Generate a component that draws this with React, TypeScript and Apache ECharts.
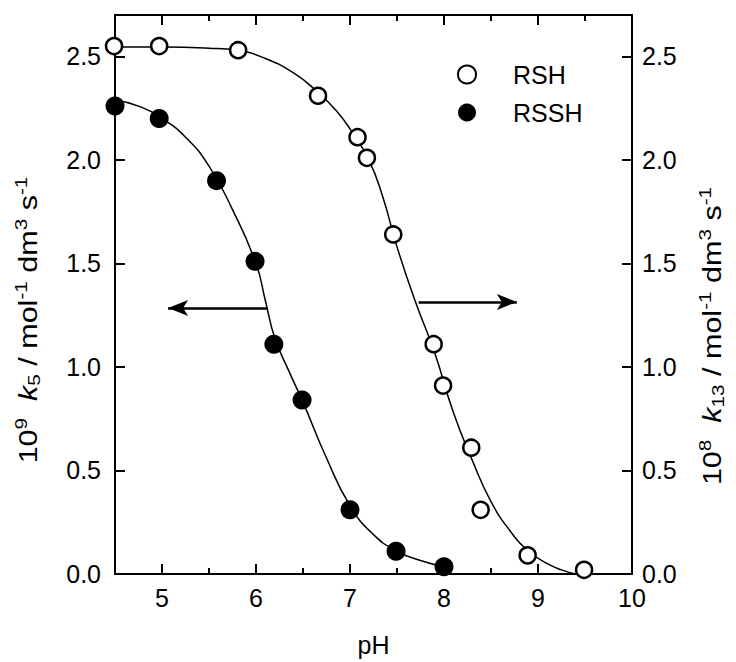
import React, { useEffect, useRef } from "react";
import * as echarts from "echarts";

// ---- axis ticks ----
const xMajorTicks = [5, 6, 7, 8, 9, 10];
const xMinorTicks = [5.5, 6.5, 7.5, 8.5, 9.5];
const yTicks = [0, 0.5, 1.0, 1.5, 2.0, 2.5];

// ---- measured points: RSH (open circles) ----
const rshPH = [4.49, 4.97, 5.81, 6.66, 7.08, 7.18, 7.46, 7.89, 7.99, 8.29, 8.39, 8.89, 9.49];
const rshK = [2.55, 2.55, 2.53, 2.31, 2.11, 2.01, 1.64, 1.11, 0.91, 0.61, 0.31, 0.09, 0.02];

// ---- measured points: RSSH (filled circles) ----
const rsshPH = [4.5, 4.97, 5.58, 5.99, 6.19, 6.49, 7.0, 7.49, 8.0];
const rsshK = [2.26, 2.2, 1.9, 1.51, 1.11, 0.84, 0.31, 0.11, 0.035];

// ---- fitted curve: RSH ----
const rshFitPH = [4.5, 5.0, 5.5, 5.8, 6.1, 6.4, 6.65, 6.85, 7.0, 7.2, 7.35, 7.5, 7.7, 7.9, 8.1, 8.3, 8.5, 8.7, 8.9, 9.1, 9.25, 9.4];
const rshFitK = [2.545, 2.545, 2.54, 2.53, 2.49, 2.42, 2.33, 2.24, 2.15, 2.0, 1.82, 1.58, 1.31, 1.07, 0.78, 0.55, 0.35, 0.21, 0.11, 0.05, 0.02, 0.0];

// ---- fitted curve: RSSH ----
const rsshFitPH = [4.5, 4.75, 5.0, 5.25, 5.5, 5.75, 6.0, 6.1, 6.2, 6.35, 6.5, 6.75, 7.0, 7.25, 7.5, 7.75, 8.0];
const rsshFitK = [2.29, 2.26, 2.2, 2.11, 1.97, 1.76, 1.5, 1.32, 1.14, 0.98, 0.83, 0.56, 0.33, 0.19, 0.11, 0.065, 0.035];

// ---- arrows (data coordinates) ----
const leftArrow = { fromPH: 6.12, toPH: 5.065, k: 1.285 };
const rightArrow = { fromPH: 7.73, toPH: 8.775, k: 1.314 };

const FONT = "Liberation Sans, Arial, Helvetica, sans-serif";

const zip = (a: number[], b: number[]) => a.map((v, i) => [v, b[i]]);

export default function App() {
  const ref = useRef<HTMLDivElement>(null);

  useEffect(() => {
    document.body.style.margin = "0";
    if (!ref.current) return;
    const chart = echarts.init(ref.current, undefined, { renderer: "svg" });

    const xBase = {
      type: "value" as const,
      min: 4.5,
      max: 10,
      splitLine: { show: false },
    };
    const lineStyle = { color: "#000", width: 2 };

    const richAxis = {
      n: { fontSize: 25, fontFamily: FONT, fill: "#000", lineHeight: 30 },
      i: { fontSize: 25, fontFamily: FONT, fontStyle: "italic", fill: "#000", lineHeight: 30 },
      sup: { fontSize: 17, fontFamily: FONT, fill: "#000", verticalAlign: "top", lineHeight: 17 },
      sub: { fontSize: 17, fontFamily: FONT, fill: "#000", verticalAlign: "bottom", lineHeight: 17 },
    };

    const tickLabel = {
      show: true,
      fontSize: 25,
      fontFamily: FONT,
      color: "#000",
    };

    chart.setOption({
      animation: false,
      backgroundColor: "#fff",
      grid: { left: 115, right: 104, top: 15, bottom: 85 },
      legend: {
        data: ["RSH", "RSSH"],
        orient: "vertical",
        left: 452,
        top: 57,
        itemWidth: 18,
        itemHeight: 18,
        itemGap: 13,
        textStyle: { fontSize: 25, fontFamily: FONT, color: "#000", padding: [0, 0, 0, 32] },
      },
      xAxis: [
        {
          ...xBase,
          position: "bottom",
          name: "pH",
          nameLocation: "middle",
          nameGap: 58,
          nameTextStyle: { fontSize: 25, fontFamily: FONT, color: "#000" },
          axisLine: { show: true, lineStyle },
          axisTick: { show: true, inside: true, length: 10, lineStyle, customValues: xMajorTicks },
          axisLabel: { ...tickLabel, margin: 11, customValues: xMajorTicks },
        },
        {
          ...xBase,
          position: "bottom",
          axisLine: { show: false },
          axisTick: { show: true, inside: true, length: 6, lineStyle, customValues: xMinorTicks },
          axisLabel: { show: false },
        },
        {
          ...xBase,
          position: "top",
          axisLine: { show: true, lineStyle },
          axisTick: { show: true, inside: true, length: 10, lineStyle, customValues: xMajorTicks },
          axisLabel: { show: false },
        },
        {
          ...xBase,
          position: "top",
          axisLine: { show: false },
          axisTick: { show: true, inside: true, length: 6, lineStyle, customValues: xMinorTicks },
          axisLabel: { show: false },
        },
      ],
      yAxis: [
        {
          type: "value",
          position: "left",
          min: 0,
          max: 2.7,
          splitLine: { show: false },
          axisLine: { show: true, lineStyle },
          axisTick: { show: true, inside: true, length: 10, lineStyle, customValues: yTicks },
          axisLabel: {
            ...tickLabel,
            margin: 14,
            customValues: yTicks,
            formatter: (v: number) => v.toFixed(1),
          },
        },
        {
          type: "value",
          position: "right",
          min: 0,
          max: 2.7,
          splitLine: { show: false },
          axisLine: { show: true, lineStyle },
          axisTick: { show: true, inside: true, length: 10, lineStyle, customValues: yTicks },
          axisLabel: {
            ...tickLabel,
            margin: 10,
            customValues: yTicks,
            formatter: (v: number) => v.toFixed(1),
          },
        },
      ],
      graphic: [
        {
          type: "text",
          x: 28,
          y: 320,
          rotation: Math.PI / 2,
          scaleX: 1.22,
          style: {
            text: "{n|10}{sup|9}{n|  }{i|k}{sub|5}{n| / mol}{sup|-1}{n| dm}{sup|3}{n| s}{sup|-1}",
            rich: richAxis,
            align: "center",
            verticalAlign: "middle",
          },
        },
        {
          type: "text",
          x: 712,
          y: 336,
          rotation: Math.PI / 2,
          scaleX: 1.22,
          style: {
            text: "{n|10}{sup|8}{n|  }{i|k}{sub|13}{n| / mol}{sup|-1}{n| dm}{sup|3}{n| s}{sup|-1}",
            rich: richAxis,
            align: "center",
            verticalAlign: "middle",
          },
        },
      ],
      series: [
        {
          name: "RSH fit",
          type: "line",
          data: zip(rshFitPH, rshFitK),
          smooth: 0.5,
          showSymbol: false,
          lineStyle: { color: "#000", width: 1.5 },
          z: 1,
          silent: true,
          markLine: {
            silent: true,
            symbol: ["none", "arrow"],
            symbolSize: [12, 20],
            label: { show: false },
            lineStyle: { color: "#000", width: 2.5, type: "solid" },
            data: [
              [{ coord: [rightArrow.fromPH, rightArrow.k] }, { coord: [rightArrow.toPH, rightArrow.k] }],
            ],
          },
        },
        {
          name: "RSSH fit",
          type: "line",
          data: zip(rsshFitPH, rsshFitK),
          smooth: 0.5,
          showSymbol: false,
          lineStyle: { color: "#000", width: 1.5 },
          z: 1,
          silent: true,
          markLine: {
            silent: true,
            symbol: ["none", "arrow"],
            symbolSize: [12, 20],
            label: { show: false },
            lineStyle: { color: "#000", width: 2.5, type: "solid" },
            data: [
              [{ coord: [leftArrow.fromPH, leftArrow.k] }, { coord: [leftArrow.toPH, leftArrow.k] }],
            ],
          },
        },
        {
          name: "RSH",
          type: "scatter",
          data: zip(rshPH, rshK),
          symbol: "circle",
          symbolSize: 16,
          clip: false,
          itemStyle: { color: "#fff", borderColor: "#000", borderWidth: 2.5, opacity: 1 },
          z: 3,
        },
        {
          name: "RSSH",
          type: "scatter",
          data: zip(rsshPH, rsshK),
          symbol: "circle",
          symbolSize: 19,
          clip: false,
          itemStyle: { color: "#000", opacity: 1 },
          z: 3,
        },
      ],
    });

    return () => chart.dispose();
  }, []);

  return <div ref={ref} style={{ width: 736, height: 662 }} />;
}
